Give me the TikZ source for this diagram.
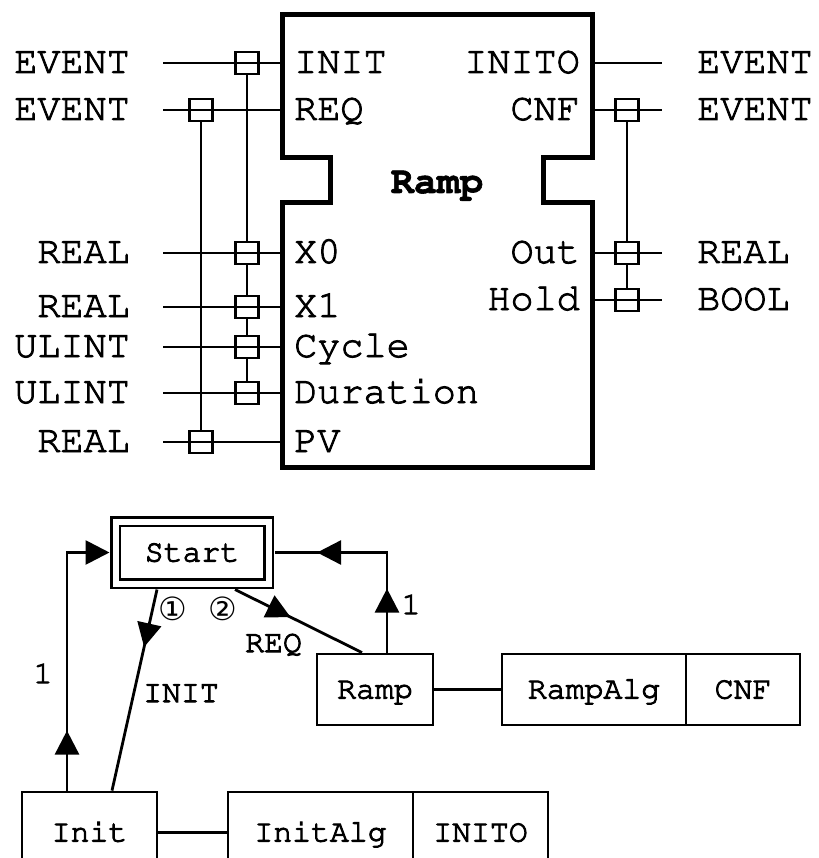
\documentclass[tikz,border=0pt]{standalone}
\usepackage[T1]{fontenc}
\usepackage{fontspec}
\newfontfamily\djv{DejaVu Sans}
\usetikzlibrary{arrows.meta,decorations.markings,calc}
\newcommand\courfont[1]{\fontencoding{T1}\fontfamily{pcr}\fontsize{#1}{#1}\selectfont}
\newcommand\heavytext[1]{\special{pdf:code 2 Tr #1 w}}
\tikzset{
  lbl/.style={inner sep=0pt, font={\courfont{38.5}\heavytext{0.9}}},
  elbl/.style={inner sep=0pt, font={\courfont{31.5}\heavytext{1}}},
  sq/.style={draw, line width=2.8pt, minimum width=22.5pt, minimum height=22pt, inner sep=0pt},
  port/.style={line width=2.8pt},
  fbody/.style={line width=5pt, line join=miter},
  ecc/.style={draw, line width=2.8pt, inner sep=0pt, font={\courfont{31.5}\heavytext{1}}, text height=18pt, text depth=0pt},
  startbox/.style={draw, double, line width=2.8pt, double distance=6pt, inner sep=0pt,
    minimum width=153pt, minimum height=62pt, outer sep=6pt, font={\courfont{31.5}\heavytext{1}}, text height=18pt, text depth=0pt},
  conn/.style={line width=2.8pt},
  midtip/.style={postaction={decorate}, decoration={markings,
    mark=at position #1 with {\arrow{Triangle[length=24pt,width=24pt]}}}},
  twotips/.style 2 args={postaction={decorate}, decoration={markings,
    mark=at position #1 with {\arrow{Triangle[length=24pt,width=24pt]}},
    mark=at position #2 with {\arrow{Triangle[length=24pt,width=24pt]}}}},
}
\begin{document}
\begin{tikzpicture}[x=1pt,y=-1pt]
\useasboundingbox (0,0) rectangle (818,858);
\clip (0,0) rectangle (818,858);
% ---------- function block ----------
\draw[fbody] (282,15) -- (592,15) -- (592,158) -- (543,158) -- (543,203) -- (592,203)
  -- (592,467) -- (282,467) -- (282,203) -- (330,203) -- (330,158) -- (282,158) -- cycle;
\node[inner sep=0pt, font={\courfont{38.5}\bfseries\heavytext{0.6}}, anchor=base] (Title) at (437,193) {Ramp};
% inputs
\foreach \n/\y/\t/\l in {INIT/63/EVENT/INIT, REQ/110/EVENT/REQ, X0/253/REAL/X0, X1/307/REAL/X1,
   Cyc/347/ULINT/Cycle, Dur/393/ULINT/Duration, PV/442/REAL/PV} {
  \node[lbl, anchor=base east] (t\n) at (130,\y+10) {\t};
  \node[lbl, anchor=base west] (p\n) at (294,\y+10) {\l};
  \coordinate (a\n) at (163,\y);
  \coordinate (b\n) at (282,\y);
  \draw[port] (a\n) -- (b\n);
}
% outputs
\foreach \n/\y/\t/\l in {INITO/63/EVENT/INITO, CNF/110/EVENT/CNF, Out/253/REAL/Out, Hold/300/BOOL/Hold} {
  \node[lbl, anchor=base west] (t\n) at (697,\y+10) {\t};
  \node[lbl, anchor=base east] (p\n) at (580,\y+10) {\l};
  \coordinate (a\n) at (592,\y);
  \coordinate (b\n) at (662,\y);
  \draw[port] (a\n) -- (b\n);
}
% WITH squares
\node[sq] (sINIT) at (247,63) {};
\node[sq] (sX0) at (247,253) {};
\node[sq] (sX1) at (247,307) {};
\node[sq] (sCyc) at (247,347) {};
\node[sq] (sDur) at (247,393) {};
\node[sq] (sREQ) at (201,110) {};
\node[sq] (sPV) at (201,442) {};
\node[sq] (sCNF) at (627,110) {};
\node[sq] (sOut) at (627,253) {};
\node[sq] (sHold) at (627,300) {};
\draw[port] (sINIT) -- (sX0) -- (sX1) -- (sCyc) -- (sDur);
\draw[port] (sREQ) -- (sPV);
\draw[port] (sCNF) -- (sOut) -- (sHold);
% ---------- ECC ----------
\node[startbox] (Start) at (192,552.5) {Start};
\node[ecc, minimum width=135pt, minimum height=81pt] (Init) at (89.5,832.5) {Init};
\node[ecc, minimum width=185pt, minimum height=81pt] (InitAlg) at (320.5,832.5) {InitAlg};
\node[ecc, minimum width=135pt, minimum height=81pt] (INITOa) at (480.5,832.5) {INITO};
\node[ecc, minimum width=116pt, minimum height=71pt] (Ramp) at (375,689.5) {Ramp};
\node[ecc, minimum width=184pt, minimum height=71pt] (RampAlg) at (594,689.5) {RampAlg};
\node[ecc, minimum width=114pt, minimum height=71pt] (CNFa) at (743,689.5) {CNF};
\draw[conn, -{Triangle[length=24pt,width=24pt]}, midtip=60pt] ([xshift=-22.5pt]Init.north) |- (Start.west);
\draw[conn, midtip=59pt] ([xshift=-35pt]Start.south) -- ([xshift=22.5pt]Init.north);
\draw[conn, midtip=62pt] ([xshift=43pt]Start.south) -- ([xshift=-13pt]Ramp.north);
\draw[conn, twotips={64pt}{170pt}] ([xshift=12pt]Ramp.north) |- (Start.east);
\draw[conn] (Init) -- (InitAlg);
\draw[conn] (Ramp) -- (RampAlg);
\node[elbl] (one1) at (43,673) {1};
\node[elbl] (one2) at (411,604) {1};
\node[elbl, anchor=base west] (lINIT) at (143,702) {INIT};
\node[elbl, anchor=base west] (lREQ) at (245,652) {REQ};
\node[inner sep=0pt, font=\djv\fontsize{32}{32}\selectfont] (c1) at (173,609) {①};
\node[inner sep=0pt, font=\djv\fontsize{32}{32}\selectfont] (c2) at (223,609) {②};
\end{tikzpicture}
\end{document}
